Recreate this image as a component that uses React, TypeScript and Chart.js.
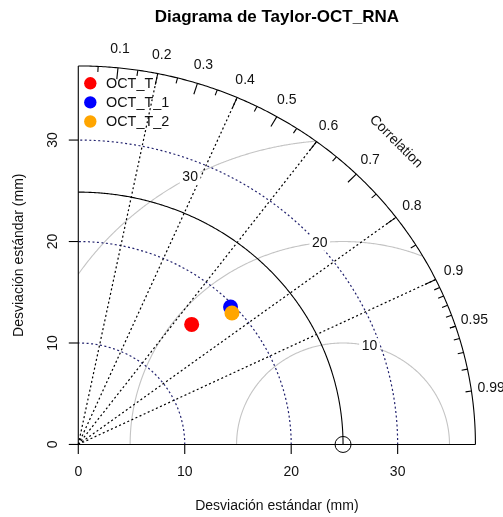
import { useEffect, useRef } from "react";
import { Chart, registerables } from "chart.js";
Chart.register(...registerables);

const TITLE = "Diagrama de Taylor-OCT_RNA";
const X_TITLE = "Desviación estándar (mm)";
const Y_TITLE = "Desviación estándar (mm)";
const CORR_TITLE = "Correlation";
const MODEL_NAMES = ["OCT_T", "OCT_T_1", "OCT_T_2"];
const MODEL_SD = [15.92, 19.7, 19.4];
const MODEL_COR = [0.669, 0.726, 0.744];
const MODEL_COLORS = ["#ff0000", "#0000ff", "#ffa500"];
const REF_SD = 24.87;
const MAX_RAY = 1.5 * REF_SD;
const AXIS_TICKS = [0, 10, 20, 30];
const SD_ARCS = [10, 20, 30];
const GAMMA = [10, 20, 30];
const GAMMA_LABEL_ANGLES = [1.32, 1.68, 2.07];
const CORR_LINES = [0.2, 0.4, 0.6, 0.8, 0.9];
const CORR_BIG = [0.1, 0.2, 0.3, 0.4, 0.5, 0.6, 0.7, 0.8, 0.9];
const CORR_MED = [0.05, 0.15, 0.25, 0.35, 0.45, 0.55, 0.65, 0.75, 0.85, 0.95];
const CORR_SMALL = [0.91, 0.92, 0.93, 0.94, 0.95, 0.96, 0.97, 0.98, 0.99];
const CORR_LABELS = [0.1, 0.2, 0.3, 0.4, 0.5, 0.6, 0.7, 0.8, 0.9, 0.95, 0.99];

const FONT = '"Liberation Sans", Arial, sans-serif';

export default function App() {
  const ref = useRef<HTMLCanvasElement>(null);
  useEffect(() => {
    const canvas = ref.current!;
    const lo = -0.04 * MAX_RAY;
    const hi = 1.04 * MAX_RAY;

    const plugin = {
      id: "taylor",
      beforeDatasetsDraw(chart: any) {
        const ctx = chart.ctx as CanvasRenderingContext2D;
        const xs = chart.scales.x;
        const ys = chart.scales.y;
        const px = (v: number) => xs.getPixelForValue(v);
        const py = (v: number) => ys.getPixelForValue(v);
        const poly = (fx: (t: number) => number, fy: (t: number) => number, a0: number, a1: number, n = 300) => {
          ctx.beginPath();
          for (let i = 0; i <= n; i++) {
            const t = a0 + ((a1 - a0) * i) / n;
            const X = px(fx(t));
            const Y = py(fy(t));
            if (i === 0) ctx.moveTo(X, Y);
            else ctx.lineTo(X, Y);
          }
          ctx.stroke();
        };
        ctx.save();
        ctx.lineWidth = 1;

        // gamma (RMS) arcs
        ctx.strokeStyle = "#c4c4c4";
        ctx.lineWidth = 1.1;
        ctx.setLineDash([]);
        GAMMA.forEach((g) => {
          const c = REF_SD;
          const cs = (MAX_RAY * MAX_RAY - c * c - g * g) / (2 * c * g);
          const a0 = cs >= 1 ? 0 : Math.acos(cs);
          const a1 = c - g < 0 ? Math.acos(-c / g) : Math.PI;
          poly((t) => c + g * Math.cos(t), (t) => g * Math.sin(t), a0, a1);
        });

        // sd arcs (blue dotted)
        ctx.strokeStyle = "#22226e";
        ctx.lineWidth = 1.2;
        ctx.setLineDash([2, 2.5]);
        SD_ARCS.forEach((r) => {
          poly((t) => r * Math.cos(t), (t) => r * Math.sin(t), 0, Math.PI / 2);
        });

        // correlation rays
        ctx.strokeStyle = "#000";
        CORR_LINES.forEach((c) => {
          ctx.beginPath();
          ctx.moveTo(px(0), py(0));
          ctx.lineTo(px(MAX_RAY * c), py(MAX_RAY * Math.sqrt(1 - c * c)));
          ctx.stroke();
        });
        ctx.setLineDash([]);
        ctx.lineWidth = 1.1;

        // reference sd arc
        ctx.strokeStyle = "#000";
        poly((t) => REF_SD * Math.cos(t), (t) => REF_SD * Math.sin(t), 0, Math.PI / 2);
        // outer arc
        poly((t) => MAX_RAY * Math.cos(t), (t) => MAX_RAY * Math.sin(t), 0, Math.PI / 2);

        // correlation ticks
        const tick = (c: number, f: number) => {
          const s = Math.sqrt(1 - c * c);
          ctx.beginPath();
          ctx.moveTo(px(MAX_RAY * c), py(MAX_RAY * s));
          ctx.lineTo(px(MAX_RAY * f * c), py(MAX_RAY * f * s));
          ctx.stroke();
        };
        CORR_BIG.forEach((c) => tick(c, 0.97));
        CORR_MED.forEach((c) => tick(c, 0.985));
        CORR_SMALL.forEach((c) => tick(c, 0.985));

        // axes
        ctx.beginPath();
        ctx.moveTo(px(0), py(MAX_RAY));
        ctx.lineTo(px(0), py(0));
        ctx.lineTo(px(MAX_RAY), py(0));
        ctx.stroke();
        const TL = 9.5;
        ctx.fillStyle = "#111";
        ctx.font = `14px ${FONT}`;
        ctx.textAlign = "center";
        ctx.textBaseline = "middle";
        AXIS_TICKS.forEach((v) => {
          ctx.beginPath();
          ctx.moveTo(px(v), py(0));
          ctx.lineTo(px(v), py(0) + TL);
          ctx.stroke();
          ctx.fillText(String(v), px(v), py(0) + 28);
          ctx.beginPath();
          ctx.moveTo(px(0), py(v));
          ctx.lineTo(px(0) - TL, py(v));
          ctx.stroke();
          ctx.save();
          ctx.translate(px(0) - 25, py(v));
          ctx.rotate(-Math.PI / 2);
          ctx.fillText(String(v), 0, 0);
          ctx.restore();
        });

        // correlation labels
        CORR_LABELS.forEach((c) => {
          const s = Math.sqrt(1 - c * c);
          ctx.fillText(String(c), px(1.05 * MAX_RAY * c), py(1.05 * MAX_RAY * s));
        });
        ctx.save();
        ctx.translate(px(0.8 * MAX_RAY), py(0.8 * MAX_RAY));
        ctx.rotate(Math.PI / 4);
        ctx.fillText(CORR_TITLE, 0, 0);
        ctx.restore();

        // gamma labels (boxed)
        GAMMA.forEach((g, i) => {
          const t = GAMMA_LABEL_ANGLES[i];
          const X = px(REF_SD + g * Math.cos(t));
          const Y = py(g * Math.sin(t));
          const w = ctx.measureText(String(g)).width;
          ctx.fillStyle = "#fff";
          ctx.fillRect(X - w * 0.6 - 1, Y - 8, w * 1.2 + 2, 16);
          ctx.fillStyle = "#111";
          ctx.fillText(String(g), X, Y);
        });
        ctx.restore();
      },
      afterDatasetsDraw(chart: any) {
        const ctx = chart.ctx as CanvasRenderingContext2D;
        const a = chart.chartArea;
        ctx.save();
        ctx.fillStyle = "#000";
        ctx.textAlign = "center";
        ctx.textBaseline = "middle";
        ctx.font = `bold 17px ${FONT}`;
        ctx.fillText(TITLE, (a.left + a.right) / 2, 17);
        ctx.font = `14px ${FONT}`;
        ctx.fillStyle = "#111";
        ctx.fillText(X_TITLE, (a.left + a.right) / 2, 506);
        ctx.save();
        ctx.translate(19, (a.top + a.bottom) / 2);
        ctx.rotate(-Math.PI / 2);
        ctx.fillText(Y_TITLE, 0, 0);
        ctx.restore();
        // legend
        ctx.font = `14.4px ${FONT}`;
        ctx.textAlign = "left";
        MODEL_NAMES.forEach((n, i) => {
          const y = 83.3 + i * 19.1;
          ctx.beginPath();
          ctx.fillStyle = MODEL_COLORS[i];
          ctx.arc(90.3, y, 6.2, 0, Math.PI * 2);
          ctx.fill();
          ctx.fillStyle = "#111";
          ctx.fillText(n, 106, y + 1);
        });
        ctx.restore();
      },
    };

    const pts = MODEL_SD.map((sd, i) => ({
      x: sd * MODEL_COR[i],
      y: sd * Math.sqrt(1 - MODEL_COR[i] * MODEL_COR[i]),
    }));

    const chart = new Chart(canvas, {
      type: "scatter",
      data: {
        datasets: [
          {
            label: "models",
            data: pts,
            pointRadius: 7.5,
            pointHoverRadius: 7.5,
            pointBorderWidth: 0,
            pointBackgroundColor: MODEL_COLORS,
            pointBorderColor: MODEL_COLORS,
            clip: false as any,
          },
          {
            label: "ref",
            data: [{ x: REF_SD, y: 0 }],
            pointRadius: 8,
            pointBorderWidth: 1,
            pointBackgroundColor: "rgba(0,0,0,0)",
            pointBorderColor: "#000",
            clip: false as any,
          },
        ],
      },
      options: {
        animation: false,
        responsive: false,
        devicePixelRatio: 1,
        events: [],
        layout: { padding: { left: 62.4, right: 11.7, top: 50.8, bottom: 57.4 } },
        plugins: { legend: { display: false }, tooltip: { enabled: false }, title: { display: false } },
        scales: {
          x: { type: "linear", min: lo, max: hi, display: false },
          y: { type: "linear", min: lo, max: hi, display: false },
        },
      },
      plugins: [plugin],
    });
    return () => chart.destroy();
  }, []);
  return (
    <div style={{ position: "absolute", left: 0, top: 0, width: 503, height: 517, background: "#fff" }}>
      <canvas ref={ref} width={503} height={517} style={{ width: 503, height: 517, display: "block" }} />
    </div>
  );
}
